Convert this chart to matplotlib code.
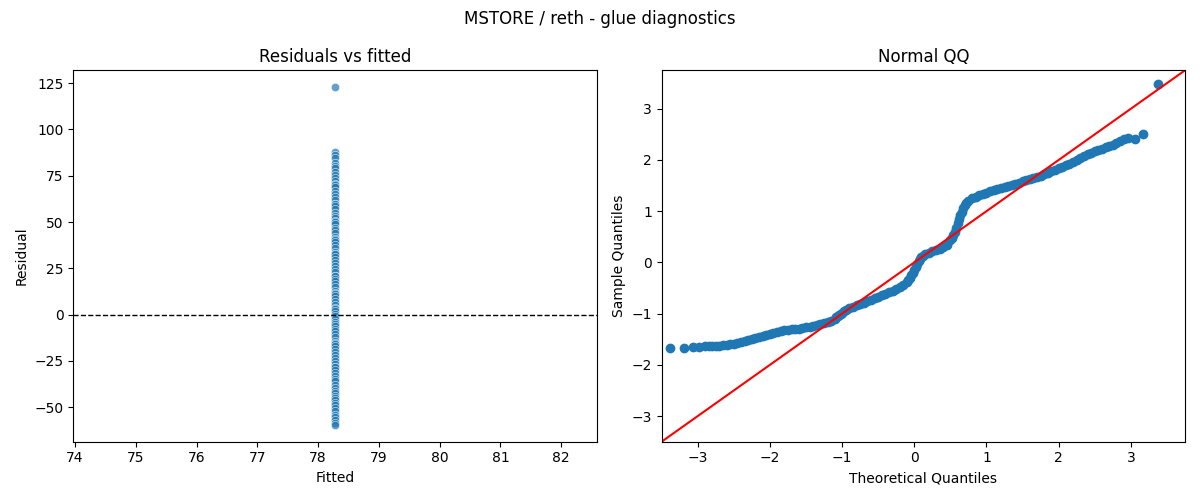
import numpy as np
import matplotlib
matplotlib.use("Agg")
import matplotlib.pyplot as plt

#Residuals vs fitted - every observation has the same fitted value
fitted_value = 78.28
residuals = [122.8, 87.9, 86.0, 84.5, 82.0, 80.5, 79.0, 77.0, 75.5, 74.0, 72.0, 70.5,
             70.0, 69.0, 67.0, 65.0, 63.5, 62.0, 60.0, 60.0, 58.5, 57.0, 55.0, 53.5,
             52.0, 50.5, 50.0, 49.0, 47.0, 45.5, 44.0, 42.0, 41.0, 40.5, 39.0, 37.5,
             36.0, 34.0, 33.0, 32.5, 31.0, 29.5, 28.0, 26.0, 24.5, 23.0, 21.0, 21.0,
             19.5, 18.0, 16.5, 15.0, 13.0, 11.5, 11.0, 10.0, 8.5, 7.0, 5.0, 3.5, 3.0,
             2.0, 0.5, -1.0, -2.5, -4.0, -5.0, -6.0, -7.5, -9.0, -10.5, -12.0, -14.0,
             -15.5, -16.0, -17.0, -18.5, -20.0, -22.0, -23.5, -25.0, -26.5, -28.0,
             -28.0, -30.0, -31.5, -33.0, -34.5, -36.0, -38.0, -39.5, -41.0, -42.5,
             -44.0, -45.0, -46.0, -47.5, -49.0, -50.5, -52.0, -54.0, -55.5, -57.0,
             -58.5, -59.5]

#Normal QQ - theoretical vs sample quantiles
theoretical_q = [-3.38, -3.19, -3.07, -2.98, -2.90, -2.85, -2.80, -2.75, -2.70, -2.65,
                 -2.60, -2.55, -2.50, -2.45, -2.40, -2.35, -2.30, -2.25, -2.20, -2.15,
                 -2.10, -2.05, -2.00, -1.95, -1.90, -1.85, -1.80, -1.75, -1.70, -1.65,
                 -1.60, -1.55, -1.50, -1.45, -1.40, -1.35, -1.30, -1.25, -1.20, -1.15,
                 -1.10, -1.08, -1.06, -1.04, -1.02, -1.00, -0.975, -0.95, -0.90, -0.85,
                 -0.80, -0.75, -0.70, -0.65, -0.60, -0.55, -0.50, -0.45, -0.40, -0.35,
                 -0.30, -0.25, -0.20, -0.15, -0.10, -0.08, -0.06, -0.04, -0.02, 0.00,
                 0.02, 0.04, 0.06, 0.08, 0.10, 0.12, 0.15, 0.20, 0.25, 0.30,
                 0.35, 0.40, 0.45, 0.50, 0.52, 0.54, 0.56, 0.58, 0.60, 0.62,
                 0.64, 0.66, 0.68, 0.70, 0.72, 0.75, 0.80, 0.85, 0.90, 0.95,
                 1.00, 1.05, 1.10, 1.15, 1.20, 1.25, 1.30, 1.35, 1.40, 1.45,
                 1.50, 1.55, 1.60, 1.65, 1.70, 1.75, 1.80, 1.85, 1.90, 1.95,
                 2.00, 2.05, 2.10, 2.15, 2.20, 2.25, 2.30, 2.35, 2.40, 2.45,
                 2.50, 2.55, 2.60, 2.65, 2.70, 2.75, 2.80, 2.85, 2.90, 2.96,
                 3.06, 3.17, 3.38]
sample_q = [-1.68, -1.68, -1.66, -1.66, -1.64, -1.64, -1.64, -1.635, -1.63, -1.62,
            -1.61, -1.60, -1.59, -1.57, -1.55, -1.535, -1.52, -1.50, -1.48, -1.46,
            -1.44, -1.42, -1.40, -1.37, -1.35, -1.335, -1.32, -1.31, -1.30, -1.295,
            -1.29, -1.28, -1.27, -1.255, -1.24, -1.22, -1.20, -1.18, -1.16, -1.135,
            -1.10, -1.07, -1.04, -1.02, -1.00, -0.98, -0.95, -0.92, -0.89, -0.865,
            -0.84, -0.815, -0.79, -0.76, -0.73, -0.70, -0.67, -0.64, -0.61, -0.58,
            -0.55, -0.515, -0.48, -0.44, -0.38, -0.34, -0.30, -0.25, -0.20, -0.14,
            -0.08, -0.03, 0.02, 0.07, 0.10, 0.13, 0.16, 0.19, 0.215, 0.24,
            0.27, 0.30, 0.35, 0.43, 0.47, 0.53, 0.60, 0.68, 0.76, 0.84,
            0.92, 0.99, 1.06, 1.12, 1.16, 1.20, 1.25, 1.28, 1.31, 1.335,
            1.36, 1.385, 1.41, 1.435, 1.46, 1.48, 1.50, 1.52, 1.54, 1.56,
            1.58, 1.60, 1.62, 1.64, 1.66, 1.69, 1.72, 1.75, 1.78, 1.81,
            1.84, 1.87, 1.90, 1.93, 1.96, 1.995, 2.03, 2.07, 2.11, 2.145,
            2.18, 2.20, 2.22, 2.245, 2.27, 2.30, 2.34, 2.37, 2.40, 2.42,
            2.41, 2.50, 3.48]

fig, (ax1, ax2) = plt.subplots(1, 2, figsize=(12, 5), dpi=100)

ax1.scatter([fitted_value] * len(residuals), residuals, s=36, color="#1f77b4",
            alpha=0.7, edgecolor="white", linewidth=0.5)
ax1.axhline(0, color="black", linestyle="--", linewidth=1)
ax1.set_title("Residuals vs fitted")
ax1.set_xlabel("Fitted")
ax1.set_ylabel("Residual")

ax2.plot(theoretical_q, sample_q, "o", color="#1f77b4", markersize=6)
lims = (-3.5, 3.75)
ax2.plot(lims, lims, "r-")
ax2.set_xlim(lims)
ax2.set_ylim(lims)
ax2.set_title("Normal QQ")
ax2.set_xlabel("Theoretical Quantiles")
ax2.set_ylabel("Sample Quantiles")

fig.suptitle("MSTORE / reth - glue diagnostics")
fig.tight_layout()
fig.savefig("out.png")
